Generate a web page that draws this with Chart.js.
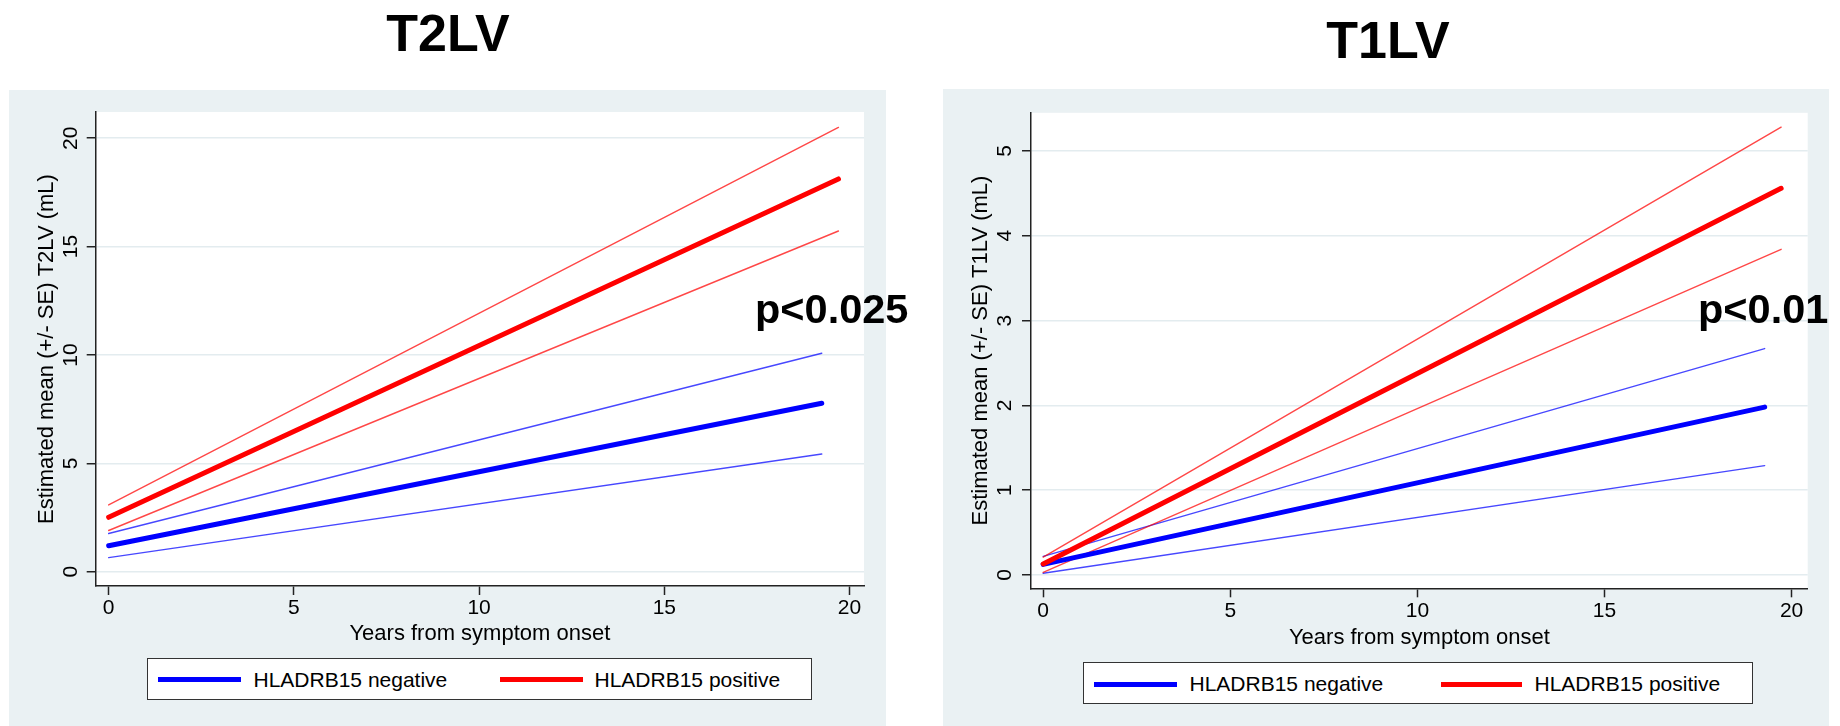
<!DOCTYPE html>
<html>
<head>
<meta charset="utf-8">
<script src="https://cdn.jsdelivr.net/npm/chart.js@4.4.1/dist/chart.umd.min.js"></script>
<style>
  body { margin: 0; background: #fff; font-family: "Liberation Sans", Arial, Helvetica, sans-serif; }
  #page { position: relative; width: 1840px; height: 726px; overflow: hidden; }
  canvas { position: absolute; }
  .title { position: absolute; width: 400px; text-align: center; font-weight: bold; font-size: 52px; line-height: 1; color: #000; }
  .pval { position: absolute; font-weight: bold; font-size: 41.5px; line-height: 1; color: #000; white-space: nowrap; }
  .legend { position: absolute; box-sizing: border-box; background: #fff; border: 1.5px solid #333; }
  .swatch { position: absolute; height: 5px; }
  .ltext { position: absolute; font-size: 21px; line-height: 1; color: #000; white-space: nowrap; }
</style>
</head>
<body>
<div id="page">
  <div class="title" style="left:248px; top:6.5px;">T2LV</div>
  <div class="title" style="left:1188px; top:13.9px;">T1LV</div>

  <canvas id="t2lv" width="877" height="636" style="left:9px; top:90px;"></canvas>
  <canvas id="t1lv" width="886" height="637" style="left:943px; top:89px;"></canvas>

  <div class="pval" style="left:755px; top:288.2px;">p&lt;0.025</div>
  <div class="pval" style="left:1698px; top:288.2px;">p&lt;0.01</div>

  <div class="legend" style="left:147px; top:658px; width:665px; height:42px;"></div>
  <div class="swatch" style="left:158px; top:676.7px; width:82.5px; background:#0000ff;"></div>
  <div class="ltext" style="left:253.5px; top:668.7px;">HLADRB15 negative</div>
  <div class="swatch" style="left:500px; top:676.7px; width:82.5px; background:#ff0000;"></div>
  <div class="ltext" style="left:594.5px; top:668.7px;">HLADRB15 positive</div>

  <div class="legend" style="left:1083px; top:662px; width:670px; height:42px;"></div>
  <div class="swatch" style="left:1093.5px; top:681.5px; width:83px; background:#0000ff;"></div>
  <div class="ltext" style="left:1189.5px; top:673px;">HLADRB15 negative</div>
  <div class="swatch" style="left:1440.5px; top:681.5px; width:81px; background:#ff0000;"></div>
  <div class="ltext" style="left:1534.5px; top:673px;">HLADRB15 positive</div>
</div>

<script>
// ticks
const xTicks = [0, 5, 10, 15, 20];
const xTickLabels = ["0", "5", "10", "15", "20"];
const t2Ticks = [0, 5, 10, 15, 20];
const t2TickLabels = ["0", "5", "10", "15", "20"];
const t1Ticks = [0, 1, 2, 3, 4, 5];
const t1TickLabels = ["0", "1", "2", "3", "4", "5"];

// T2LV, years from onset and estimated mean +/- SE (mL)
const t2YearsNeg = [0, 19.25];
const t2NegMean = [1.2, 7.77];
const t2NegHi = [1.76, 10.08];
const t2NegLo = [0.65, 5.43];
const t2YearsPos = [0, 19.7];
const t2PosMean = [2.51, 18.12];
const t2PosHi = [3.08, 20.5];
const t2PosLo = [1.9, 15.72];

// T1LV
const t1YearsNeg = [0, 19.28];
const t1NegMean = [0.125, 1.98];
const t1NegHi = [0.22, 2.67];
const t1NegLo = [0.02, 1.29];
const t1YearsPos = [0, 19.72];
const t1PosMean = [0.13, 4.56];
const t1PosHi = [0.21, 5.28];
const t1PosLo = [0.03, 3.84];

const BLUE = "#0000ff";
const RED = "#ff0000";
const BLUE_CI = "rgba(0, 0, 255, 0.72)";
const RED_CI = "rgba(255, 0, 0, 0.72)";
const PANEL = "#eaf1f3";
const GRID = "#e3ecef";
const AXIS = "#222";

Chart.defaults.font.family = '"Liberation Sans", Arial, Helvetica, sans-serif';
Chart.defaults.color = "#000";

function pts(xs, ys) {
  return xs.map((x, i) => ({ x: x, y: ys[i] }));
}

function serie(xs, ys, color, thick) {
  return {
    data: pts(xs, ys),
    borderColor: color,
    borderWidth: thick ? 5 : 1.4,
    borderCapStyle: "round",
    pointRadius: 0,
    tension: 0
  };
}

const fondo = {
  id: "fondo",
  beforeDraw(chart) {
    const ctx = chart.ctx;
    const a = chart.chartArea;
    ctx.save();
    ctx.fillStyle = PANEL;
    ctx.fillRect(0, 0, chart.width, chart.height);
    ctx.fillStyle = "#fff";
    ctx.fillRect(a.left, a.top, a.right - a.left, a.bottom - a.top);
    ctx.restore();
  }
};

function crearGrafico(id, cfg) {
  const ctx = document.getElementById(id).getContext("2d");
  return new Chart(ctx, {
    type: "line",
    data: { datasets: cfg.datasets },
    options: {
      responsive: false,
      animation: false,
      devicePixelRatio: 1,
      layout: { padding: { left: 0, top: cfg.top, right: cfg.right, bottom: 0 } },
      plugins: { legend: { display: false }, tooltip: { enabled: false } },
      scales: {
        x: {
          type: "linear",
          min: cfg.xMin,
          max: cfg.xMax,
          afterBuildTicks: axis => { axis.ticks = xTicks.map(v => ({ value: v })); },
          afterFit: s => { s.height = cfg.xHeight; },
          ticks: {
            font: { size: 21 },
            padding: cfg.xPad,
            maxRotation: 0,
            callback: (v, i) => xTickLabels[i]
          },
          grid: { drawOnChartArea: false, drawTicks: true, tickLength: 9, tickColor: AXIS, tickWidth: 1.5 },
          border: { display: true, color: AXIS, width: 1.5 },
          title: {
            display: true,
            text: "Years from symptom onset",
            font: { size: 22 },
            padding: { top: 0, bottom: cfg.xTitlePad }
          }
        },
        y: {
          type: "linear",
          min: cfg.yMin,
          max: cfg.yMax,
          afterBuildTicks: axis => { axis.ticks = cfg.yTicks.map(v => ({ value: v })); },
          afterFit: s => { s.width = cfg.yWidth; },
          ticks: {
            font: { size: 21 },
            padding: cfg.yPad,
            minRotation: 90,
            maxRotation: 90,
            crossAlign: "center",
            callback: (v, i) => cfg.yLabels[i]
          },
          grid: { color: GRID, lineWidth: 1.5, drawTicks: true, tickLength: 9, tickColor: AXIS, tickWidth: 1.5 },
          border: { display: true, color: AXIS, width: 1.5 },
          title: {
            display: true,
            text: cfg.yTitle,
            font: { size: 22 },
            padding: { top: cfg.yTitlePad, bottom: 0 }
          }
        }
      }
    },
    plugins: [fondo]
  });
}

crearGrafico("t2lv", {
  datasets: [
    serie(t2YearsPos, t2PosMean, RED, true),
    serie(t2YearsNeg, t2NegMean, BLUE, true),
    serie(t2YearsPos, t2PosHi, RED_CI, false),
    serie(t2YearsPos, t2PosLo, RED_CI, false),
    serie(t2YearsNeg, t2NegHi, BLUE_CI, false),
    serie(t2YearsNeg, t2NegLo, BLUE_CI, false)
  ],
  top: 22, right: 22,
  xMin: -0.35, xMax: 20.39, xHeight: 140, xPad: 0.4, xTitlePad: 78.8,
  yMin: -0.66, yMax: 21.21, yWidth: 86.7, yPad: 4.2, yTitlePad: 24.8,
  yTicks: t2Ticks, yLabels: t2TickLabels,
  yTitle: "Estimated mean (+/- SE) T2LV (mL)"
});

crearGrafico("t1lv", {
  datasets: [
    serie(t1YearsPos, t1PosMean, RED, true),
    serie(t1YearsNeg, t1NegMean, BLUE, true),
    serie(t1YearsPos, t1PosHi, RED_CI, false),
    serie(t1YearsPos, t1PosLo, RED_CI, false),
    serie(t1YearsNeg, t1NegHi, BLUE_CI, false),
    serie(t1YearsNeg, t1NegLo, BLUE_CI, false)
  ],
  top: 22.7, right: 21.3,
  xMin: -0.326, xMax: 20.43, xHeight: 137.7, xPad: 1.8, xTitlePad: 74.5,
  yMin: -0.157, yMax: 5.45, yWidth: 88, yPad: 11.2, yTitlePad: 24.5,
  yTicks: t1Ticks, yLabels: t1TickLabels,
  yTitle: "Estimated mean (+/- SE) T1LV (mL)"
});
</script>
</body>
</html>
